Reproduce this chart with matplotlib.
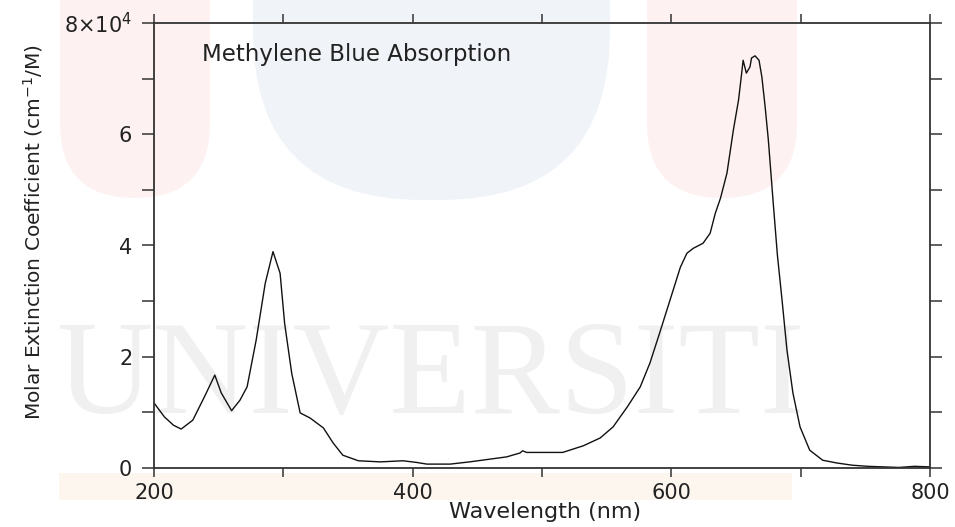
import matplotlib
matplotlib.use("Agg")
import matplotlib.pyplot as plt
from matplotlib.patches import FancyBboxPatch, Rectangle
from matplotlib.transforms import Affine2D

# spectrum (wavelength in nm, epsilon in 1e4 M^-1 cm^-1)
wavelength = [200, 208, 215, 221, 230, 239, 247, 252, 260, 266.5, 272, 279, 286, 292,
              297.5, 301, 306.5, 313, 320.6, 331, 338.5, 346, 358, 375, 392.5, 403,
              411, 429, 444, 460, 472.7, 483, 485, 488, 516, 532, 545, 555, 566, 576,
              583.5, 591, 599, 607, 612, 617, 624.5, 630, 634, 638, 643, 648, 652,
              654.4, 655.5, 658, 660.8, 662, 664.7, 667.8, 670, 672.5, 675, 677,
              678.9, 682, 685.6, 689.4, 694, 699.5, 707, 717, 728, 740, 752, 764,
              776, 788, 800]
epsilon = [1.17, 0.92, 0.77, 0.70, 0.86, 1.28, 1.67, 1.35, 1.03, 1.22, 1.46, 2.30, 3.32,
           3.89, 3.50, 2.60, 1.70, 0.99, 0.90, 0.72, 0.45, 0.23, 0.13, 0.11, 0.13, 0.10,
           0.07, 0.07, 0.11, 0.16, 0.20, 0.27, 0.31, 0.28, 0.28, 0.40, 0.54, 0.74, 1.10,
           1.46, 1.89, 2.43, 3.02, 3.61, 3.86, 3.95, 4.04, 4.22, 4.58, 4.85, 5.30, 6.08,
           6.62, 7.10, 7.33, 7.10, 7.21, 7.37, 7.41, 7.33, 7.03, 6.50, 5.90, 5.30, 4.73,
           3.83, 3.02, 2.12, 1.35, 0.74, 0.32, 0.14, 0.09, 0.05, 0.03, 0.02, 0.01, 0.03,
           0.02]
epsilon = [v * 1e4 for v in epsilon]

x_ticks = [200, 300, 400, 500, 600, 700, 800]
x_labels = ["200", "", "400", "", "600", "", "800"]
y_ticks = [0, 1e4, 2e4, 3e4, 4e4, 5e4, 6e4, 7e4, 8e4]
y_labels = ["0", "", "2", "", "4", "", "6", "", "8\u00d710$^4$"]

W, H = 955, 527
fig = plt.figure(figsize=(W / 100, H / 100), dpi=100)
fig.patch.set_facecolor("white")
px = Affine2D().scale(1 / 100) + fig.dpi_scale_trans  # image pixels, origin bottom-left

# faint watermark behind the plot
def pill(x0, x1, y_bottom, r, color):
    p = FancyBboxPatch((x0, H - y_bottom), x1 - x0, 400, boxstyle=f"round,pad=0,rounding_size={r}",
                       facecolor=color, edgecolor="none", transform=px, zorder=-2)
    fig.add_artist(p)

pill(60, 210, 198, 75, "#fdf1f1")
pill(253, 610, 200, 170, "#f0f4f8")
pill(647, 797, 198, 75, "#fdf1f1")
fig.add_artist(Rectangle((59, H - 500), 733, 27, facecolor="#fdf6ef", edgecolor="none",
                         transform=px, zorder=-2))
fig.text(430 / W, 1 - 413 / H, "UNIVERSITI", family="Liberation Serif", fontsize=96,
         color="#f0f0f0", ha="center", va="baseline", zorder=-1)

ax = fig.add_axes([154 / W, 59 / H, 776 / W, 445 / H])
ax.set_facecolor("none")
ax.plot(wavelength, epsilon, color="#111111", linewidth=1.0)

ax.set_xlim(200, 800)
ax.set_ylim(0, 8e4)
ax.set_xticks(x_ticks)
ax.set_xticklabels(x_labels)
ax.set_yticks(y_ticks)
ax.set_yticklabels(y_labels)

for s in ax.spines.values():
    s.set_color("#333333")
    s.set_linewidth(1.3)
ax.tick_params(axis="x", direction="out", top=True, length=6.5, width=1.1, pad=4,
               labelsize=15, colors="#333333", labelcolor="#222222")
ax.tick_params(axis="y", direction="out", right=True, length=8.6, width=1.1, pad=7,
               labelsize=15, colors="#333333", labelcolor="#222222")

ax.set_xlabel("Wavelength (nm)", fontsize=16, color="#222222", va="top")
ax.xaxis.set_label_coords((545 - 154) / 776, -(502 - 468) / 445)
ax.set_ylabel("Molar Extinction Coefficient (cm$^{-1}$/M)", fontsize=14.5, color="#222222",
              va="center")
ax.yaxis.set_label_coords(-(154 - 33) / 776, (468 - 232) / 445)

ax.text((202 - 154) / 776, (468 - 55) / 445, "Methylene Blue Absorption", transform=ax.transAxes,
        fontsize=16.5, color="#222222", ha="left", va="center")

fig.savefig("out.png", dpi=100)
